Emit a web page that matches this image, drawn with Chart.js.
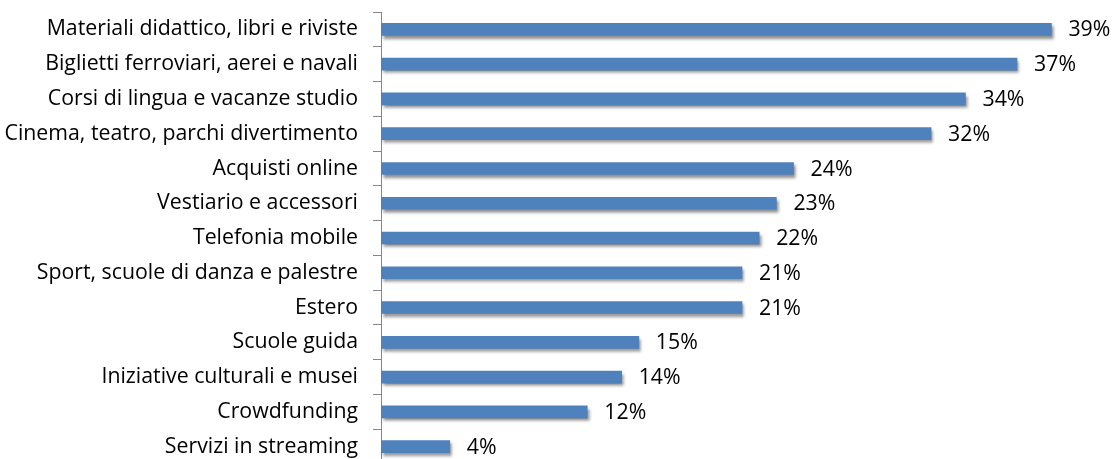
<!DOCTYPE html>
<html>
<head>
<meta charset="utf-8">
<script src="https://cdn.jsdelivr.net/npm/chart.js@4/dist/chart.umd.min.js"></script>
<style>
  html, body { margin: 0; padding: 0; background: #fff; overflow: hidden; }
  #wrap { width: 1113px; height: 466px; }
</style>
</head>
<body>
<div id="wrap"><canvas id="c" width="1113" height="466"></canvas></div>
<script>
const categories = [
  "Materiali didattico, libri e riviste",
  "Biglietti ferroviari, aerei e navali",
  "Corsi di lingua e vacanze studio",
  "Cinema, teatro, parchi divertimento",
  "Acquisti online",
  "Vestiario e accessori",
  "Telefonia mobile",
  "Sport, scuole di danza e palestre",
  "Estero",
  "Scuole guida",
  "Iniziative culturali e musei",
  "Crowdfunding",
  "Servizi in streaming"
];
const shares = [39, 37, 34, 32, 24, 23, 22, 21, 21, 15, 14, 12, 4];

const FONT = "'Open Sans', sans-serif";
const FONT_SIZE = 21.3;

// soft drop shadow under the bars only
const barShadow = {
  id: 'barShadow',
  beforeDatasetDraw(chart) {
    const ctx = chart.ctx;
    ctx.save();
    ctx.shadowColor = 'rgba(0,0,0,0.45)';
    ctx.shadowBlur = 3;
    ctx.shadowOffsetX = 2;
    ctx.shadowOffsetY = 3;
  },
  afterDatasetDraw(chart) {
    chart.ctx.restore();
  }
};

// percentage labels to the right of each bar
const valueLabels = {
  id: 'valueLabels',
  afterDatasetsDraw(chart) {
    const ctx = chart.ctx;
    const meta = chart.getDatasetMeta(0);
    ctx.save();
    ctx.font = FONT_SIZE + "px " + FONT;
    ctx.fillStyle = '#000';
    ctx.textAlign = 'left';
    ctx.textBaseline = 'middle';
    meta.data.forEach((bar, i) => {
      ctx.fillText(shares[i] + '%', bar.x + 17, bar.y + 1);
    });
    ctx.restore();
  }
};

new Chart(document.getElementById('c'), {
  type: 'bar',
  data: {
    labels: categories,
    datasets: [{
      data: shares,
      backgroundColor: '#4F81BD',
      borderWidth: 0,
      barThickness: 12
    }]
  },
  options: {
    indexAxis: 'y',
    responsive: false,
    animation: false,
    events: [],
    layout: { padding: { top: 12, bottom: 2, left: 0, right: 10 } },
    plugins: {
      legend: { display: false },
      tooltip: { enabled: false }
    },
    scales: {
      x: {
        display: false,
        min: 0,
        max: 42
      },
      y: {
        afterFit(scale) {
          scale.width = 381;
          scale.paddingTop = 0;
          scale.paddingBottom = 0;
        },
        border: { display: true, color: '#868686', width: 1 },
        grid: {
          display: true,
          drawOnChartArea: false,
          drawTicks: true,
          tickLength: 8,
          color: '#868686',
          offset: true
        },
        ticks: {
          color: '#000',
          padding: 15,
          font: { family: FONT, size: FONT_SIZE },
          autoSkip: false
        }
      }
    }
  },
  plugins: [barShadow, valueLabels]
});
</script>
</body>
</html>
